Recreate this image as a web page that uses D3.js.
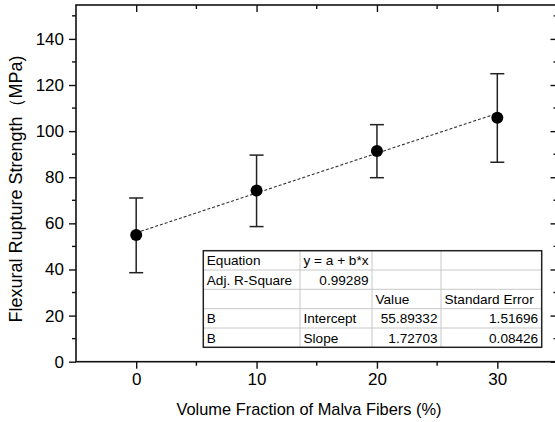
<!DOCTYPE html>
<html><head><meta charset="utf-8">
<script src="https://cdn.jsdelivr.net/npm/d3@7"></script>
<style>body{margin:0;background:#fff}svg{display:block}text{font-family:"Liberation Sans",Arial,sans-serif}</style>
</head><body><svg id="c" width="555" height="422"></svg>
<script>
const fractions = [0, 10, 20, 30];
const strength = [55.0, 74.2, 91.4, 105.8];
const errLow = [38.6, 58.6, 79.8, 86.5];
const errHigh = [71.0, 89.6, 102.8, 124.9];
const fitIntercept = 55.89332;
const fitSlope = 1.72703;
const xTicks = [0, 10, 20, 30];
const yTicks = [0, 20, 40, 60, 80, 100, 120, 140];
const tableRows = [
  ["Equation", "y = a + b*x", "", ""],
  ["Adj. R-Square", "0.99289", "", ""],
  ["", "", "Value", "Standard Error"],
  ["B", "Intercept", "55.89332", "1.51696"],
  ["B", "Slope", "1.72703", "0.08426"]
];
const tableAlign = [
  ["start","start","",""],
  ["start","end","",""],
  ["","","start","start"],
  ["start","start","end","end"],
  ["start","start","end","end"]
];

const svg = d3.select("#c");
svg.append("rect").attr("width",555).attr("height",422).attr("fill","#fff");
const L=76, R=557.5, T=5, B=361.7;
const x = d3.scaleLinear().domain([-5,35]).range([L,R]);
const y = d3.scaleLinear().domain([0,154.7]).range([B,T]);
const ink = "#111";

svg.append("rect").attr("x",L).attr("y",T).attr("width",R-L).attr("height",B-T)
  .attr("fill","none").attr("stroke",ink).attr("stroke-width",1.6);

const xMinor = d3.range(-5,36,5).filter(v=>v>-5 && v<35 && v%10!==0);
const yMinor = d3.range(10,155,20);
const gb = svg.append("g").attr("transform",`translate(0,${B})`);
gb.call(d3.axisBottom(x).tickValues(xTicks).tickSize(7).tickPadding(4).tickFormat(d3.format("d")));
xMinor.forEach(v=>gb.append("line").attr("x1",x(v)).attr("x2",x(v)).attr("y1",0).attr("y2",4).attr("stroke",ink).attr("stroke-width",1.4));
const gl = svg.append("g").attr("transform",`translate(${L},0)`);
gl.call(d3.axisLeft(y).tickValues(yTicks).tickSize(7).tickPadding(5).tickFormat(d3.format("d")));
yMinor.forEach(v=>gl.append("line").attr("x1",0).attr("x2",-4).attr("y1",y(v)).attr("y2",y(v)).attr("stroke",ink).attr("stroke-width",1.4));
const gt = svg.append("g").attr("transform",`translate(0,${T})`);
gt.call(d3.axisTop(x).tickValues(xTicks).tickSize(-7).tickFormat(""));
xMinor.forEach(v=>gt.append("line").attr("x1",x(v)).attr("x2",x(v)).attr("y1",0).attr("y2",4).attr("stroke",ink).attr("stroke-width",1.4));
const gr = svg.append("g").attr("transform",`translate(${R},0)`);
gr.call(d3.axisRight(y).tickValues(yTicks).tickSize(-7).tickFormat(""));
yMinor.forEach(v=>gr.append("line").attr("x1",0).attr("x2",-4).attr("y1",y(v)).attr("y2",y(v)).attr("stroke",ink).attr("stroke-width",1.4));
[gb,gl,gt,gr].forEach(g=>{
  g.select(".domain").remove();
  g.selectAll(".tick line").attr("stroke",ink).attr("stroke-width",1.4);
  g.selectAll(".tick text").attr("fill","#000").style("font-size","17px").style("font-family","'Liberation Sans',Arial,sans-serif");
});

svg.append("line")
  .attr("x1",x(0)).attr("y1",y(fitIntercept))
  .attr("x2",x(30)).attr("y2",y(fitIntercept+fitSlope*30))
  .attr("stroke","#333").attr("stroke-width",1.1).attr("stroke-dasharray","3,2");

const cap = 7;
const eb = svg.append("g").attr("stroke","#222").attr("stroke-width",1.5);
fractions.forEach((f,i)=>{
  eb.append("line").attr("x1",x(f)).attr("x2",x(f)).attr("y1",y(errLow[i])).attr("y2",y(errHigh[i]));
  eb.append("line").attr("x1",x(f)-cap).attr("x2",x(f)+cap).attr("y1",y(errLow[i])).attr("y2",y(errLow[i]));
  eb.append("line").attr("x1",x(f)-cap).attr("x2",x(f)+cap).attr("y1",y(errHigh[i])).attr("y2",y(errHigh[i]));
});
svg.append("g").selectAll("circle").data(fractions).join("circle")
  .attr("cx",d=>x(d)).attr("cy",(d,i)=>y(strength[i])).attr("r",6).attr("fill","#000");

const colX = [203.3, 300, 372, 441, 541.7];
const rowY = [250.7, 270, 289.3, 308.7, 328, 347.3];
const tg = svg.append("g");
tg.append("rect").attr("x",colX[0]).attr("y",rowY[0]).attr("width",colX[4]-colX[0]).attr("height",rowY[5]-rowY[0]).attr("fill","#fff");
for(let i=1;i<5;i++) tg.append("line").attr("x1",colX[0]).attr("x2",colX[4]).attr("y1",rowY[i]).attr("y2",rowY[i]).attr("stroke","#c8c8c8").attr("stroke-width",1);
for(let j=1;j<4;j++) tg.append("line").attr("x1",colX[j]).attr("x2",colX[j]).attr("y1",rowY[0]).attr("y2",rowY[5]).attr("stroke","#c8c8c8").attr("stroke-width",1);
tg.append("rect").attr("x",colX[0]).attr("y",rowY[0]).attr("width",colX[4]-colX[0]).attr("height",rowY[5]-rowY[0]).attr("fill","none").attr("stroke","#222").attr("stroke-width",1.5);
tableRows.forEach((row,i)=>row.forEach((txt,j)=>{
  if(!txt) return;
  const a = tableAlign[i][j];
  tg.append("text").attr("x", a==="end" ? colX[j+1]-3.5 : colX[j]+3.5)
    .attr("y", rowY[i]+14.5).attr("text-anchor",a).style("font-size","13.6px").attr("fill","#000").text(txt);
}));

svg.append("text").attr("x",309).attr("y",415).attr("text-anchor","middle").style("font-size","16.4px").text("Volume Fraction of Malva Fibers (%)");
svg.append("text").attr("transform","translate(22,189) rotate(-90)").attr("text-anchor","middle").style("font-size","18px").text("Flexural Rupture Strength（MPa)");
</script></body></html>
